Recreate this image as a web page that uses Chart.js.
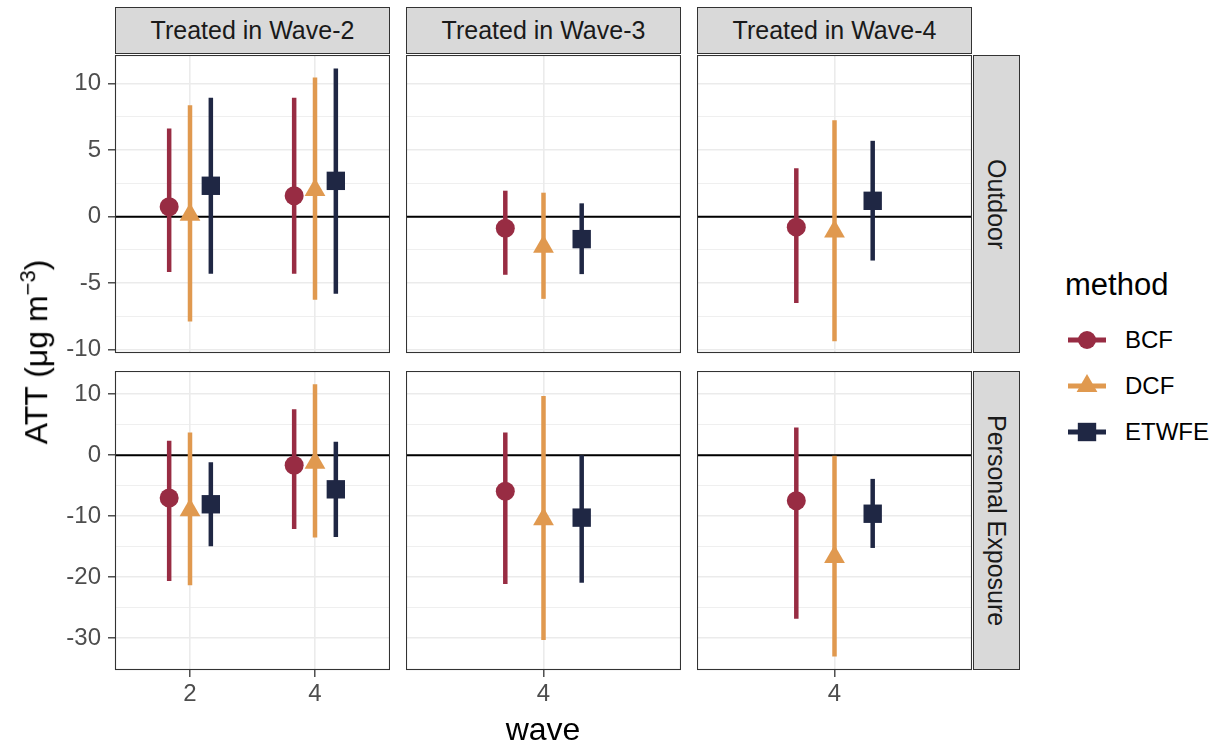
<!DOCTYPE html>
<html>
<head>
<meta charset="utf-8">
<script src="https://cdn.jsdelivr.net/npm/chart.js@4.4.1/dist/chart.umd.min.js"></script>
<style>
  body { margin: 0; background: #fff; font-family: "Liberation Sans", Arial, sans-serif; }
  #wrap { position: relative; width: 1225px; height: 747px; overflow: hidden; background: #fff; }
  #wrap canvas { position: absolute; }
  .strip { position: absolute; box-sizing: border-box; background: #D9D9D9; border: 1px solid #333;
           color: #1A1A1A; font-size: 25px; display: flex; align-items: center; justify-content: center; }
  .strip.v { writing-mode: vertical-rl; }
  .title { position: absolute; color: #000; font-size: 32px; white-space: nowrap; }
  .legend-title { position: absolute; left: 1065px; top: 267px; font-size: 31px; color: #000; }
  .legend-item { position: absolute; left: 1066px; height: 30px; display: flex; align-items: center; font-size: 24px; color: #000; }
  .legend-item svg { margin-right: 17px; }
</style>
</head>
<body>
<div id="wrap"></div>
<script>
// Facets, methods and styling
const cohorts = ['Treated in Wave-2', 'Treated in Wave-3', 'Treated in Wave-4'];
const outcomes = ['Outdoor', 'Personal Exposure'];
const methods = ['BCF', 'DCF', 'ETWFE'];
const methodColors = ['#982C43', '#E0994F', '#1F2744'];
const methodShapes = ['circle', 'triangle', 'rect'];
const methodRadius = [9.5, 12, 13];
const dodge = [-1 / 3, 0, 1 / 3];

// One row per estimate: cohort column and wave
const estCohort = [0, 0, 1, 2];
const estWave = [2, 4, 4, 4];

// [estimate, lower, upper]
const outdoorBCF   = [[0.75, -4.17, 6.63], [1.57, -4.30, 8.93], [-0.87, -4.37, 1.95], [-0.79, -6.50, 3.63]];
const outdoorDCF   = [[0.14, -7.88, 8.38], [2.00, -6.25, 10.46], [-2.26, -6.18, 1.80], [-1.12, -9.37, 7.25]];
const outdoorETWFE = [[2.32, -4.30, 8.93], [2.69, -5.80, 11.13], [-1.69, -4.32, 1.00], [1.19, -3.30, 5.70]];
const personalBCF   = [[-7.01, -20.6, 2.38], [-1.66, -12.1, 7.55], [-5.92, -21.1, 3.73], [-7.45, -26.8, 4.55]];
const personalDCF   = [[-9.02, -21.3, 3.73], [-1.25, -13.5, 11.63], [-10.5, -30.3, 9.72], [-16.7, -33.0, -0.07]];
const personalETWFE = [[-8.04, -14.93, -1.17], [-5.59, -13.4, 2.21], [-10.23, -20.9, 0.0], [-9.59, -15.2, -3.88]];
const outcomeData = [[outdoorBCF, outdoorDCF, outdoorETWFE], [personalBCF, personalDCF, personalETWFE]];

// Axes
const xTicksByCohort = [[2, 4], [4], [4]];
const xRangeByCohort = [[0.8, 5.2], [2.8, 5.2], [2.8, 5.2]];
const outdoorTicks = [-10, -5, 0, 5, 10];
const personalTicks = [-30, -20, -10, 0, 10];
const yTicksByOutcome = [outdoorTicks, personalTicks];
const yRangeByOutcome = [[-10.25, 12.15], [-35.2, 13.8]];

// Panel layout (pixels)
const colLeft = [115, 406, 697];
const panelW = 275;
const rowTop = [55, 371];
const rowH = [298, 299];
const yAxisW = 115;
const xAxisH = [14, 45];   // room below each row: label overhang on top row, tick labels on bottom row

Chart.defaults.font.family = '"Liberation Sans", Arial, sans-serif';
const wrap = document.getElementById('wrap');

const panelBorder = {
  id: 'panelBorder',
  afterDraw(chart) {
    const a = chart.chartArea, c = chart.ctx;
    c.save();
    c.strokeStyle = '#333333';
    c.lineWidth = 1.1;
    c.strokeRect(a.left + 0.5, a.top + 0.5, a.right - a.left - 1, a.bottom - a.top - 1);
    c.restore();
  }
};

function withMinor(majors) {
  const all = majors.slice();
  for (let i = 0; i < majors.length - 1; i++) all.push((majors[i] + majors[i + 1]) / 2);
  return all.sort((a, b) => a - b);
}

function makePanel(row, col) {
  const leftCol = col === 0, bottomRow = row === 1;
  const canvas = document.createElement('canvas');
  const cw = panelW + (leftCol ? yAxisW : 0);
  const ch = rowH[row] + xAxisH[row];
  canvas.width = cw; canvas.height = ch;
  canvas.style.left = (leftCol ? 0 : colLeft[col]) + 'px';
  canvas.style.top = rowTop[row] + 'px';
  canvas.style.width = cw + 'px'; canvas.style.height = ch + 'px';
  wrap.appendChild(canvas);

  const [xMin, xMax] = xRangeByCohort[col];
  const majorsY = new Set(yTicksByOutcome[row]);
  const yTicks = withMinor(yTicksByOutcome[row]);
  const isMajorY = ctx => ctx.tick && majorsY.has(ctx.tick.value);

  const datasets = [];
  // zero reference line
  datasets.push({
    type: 'line', data: [{ x: xMin, y: 0 }, { x: xMax, y: 0 }],
    borderColor: '#000', borderWidth: 2, pointRadius: 0, order: 10
  });
  methods.forEach((m, mi) => {
    const rows = outcomeData[row][mi];
    const ranges = [], points = [];
    rows.forEach((r, i) => {
      if (estCohort[i] !== col) return;
      const x = estWave[i] + dodge[mi];
      ranges.push({ x, y: r[1] }, { x, y: r[2] }, { x, y: null });
      points.push({ x, y: r[0] });
    });
    datasets.push({
      type: 'line', label: m + ' interval', data: ranges, spanGaps: false,
      borderColor: methodColors[mi], borderWidth: 4.5, borderCapStyle: 'butt',
      pointRadius: 0, order: 5
    });
    datasets.push({
      type: 'scatter', label: m, data: points,
      pointStyle: methodShapes[mi], pointRadius: methodRadius[mi],
      backgroundColor: methodColors[mi], borderWidth: 0, order: 1
    });
  });

  new Chart(canvas, {
    type: 'scatter',
    data: { datasets },
    plugins: [panelBorder],
    options: {
      responsive: false, animation: false, devicePixelRatio: 1, events: [],
      layout: { padding: 0, autoPadding: false },
      plugins: { legend: { display: false }, tooltip: { enabled: false } },
      scales: {
        x: {
          type: 'linear', min: xMin, max: xMax,
          afterBuildTicks: s => { s.ticks = xTicksByCohort[col].map(v => ({ value: v })); },
          afterFit: s => { s.height = xAxisH[row]; s.paddingLeft = 0; s.paddingRight = 0; },
          border: { display: false },
          grid: { color: '#EBEBEB', lineWidth: 1.6, drawTicks: bottomRow, tickLength: 7,
                  tickColor: '#333333', tickWidth: 1.3 },
          ticks: { display: bottomRow, color: '#4D4D4D', font: { size: 24 }, padding: 3,
                   maxRotation: 0, callback: v => String(v) }
        },
        y: {
          type: 'linear', min: yRangeByOutcome[row][0], max: yRangeByOutcome[row][1],
          afterBuildTicks: s => { s.ticks = yTicks.map(v => ({ value: v })); },
          afterFit: s => { s.width = leftCol ? yAxisW : 0; s.paddingTop = 0; s.paddingBottom = 0; },
          border: { display: false },
          grid: {
            color: '#EBEBEB',
            lineWidth: ctx => isMajorY(ctx) ? 1.6 : 0.8,
            drawTicks: leftCol, tickLength: 7,
            tickColor: ctx => isMajorY(ctx) ? '#333333' : 'rgba(0,0,0,0)',
            tickWidth: 1.3
          },
          ticks: { display: leftCol, color: '#4D4D4D', font: { size: 24 }, padding: 7,
                   autoSkip: false, callback: v => majorsY.has(v) ? String(v) : '' }
        }
      }
    }
  });
}

for (let r = 0; r < outcomes.length; r++)
  for (let c = 0; c < cohorts.length; c++) makePanel(r, c);

// Facet strips
cohorts.forEach((t, c) => {
  const d = document.createElement('div');
  d.className = 'strip';
  d.style.left = colLeft[c] + 'px'; d.style.top = '7px';
  d.style.width = panelW + 'px'; d.style.height = '47px';
  d.textContent = t;
  wrap.appendChild(d);
});
outcomes.forEach((t, r) => {
  const d = document.createElement('div');
  d.className = 'strip v';
  d.style.left = '973px'; d.style.top = rowTop[r] + 'px';
  d.style.width = '47px'; d.style.height = rowH[r] + 'px';
  d.textContent = t;
  wrap.appendChild(d);
});

// Axis titles
const yTitle = document.createElement('div');
yTitle.className = 'title';
yTitle.innerHTML = 'ATT (\u03BCg m<sup style="font-size:22px">\u22123</sup>)';
yTitle.style.left = '35px'; yTitle.style.top = '352px';
yTitle.style.transform = 'translate(-50%, -50%) rotate(-90deg)';
wrap.appendChild(yTitle);

const xTitle = document.createElement('div');
xTitle.className = 'title';
xTitle.textContent = 'wave';
xTitle.style.left = '543px'; xTitle.style.top = '711px';
xTitle.style.transform = 'translateX(-50%)';
wrap.appendChild(xTitle);

// Legend
const lt = document.createElement('div');
lt.className = 'legend-title';
lt.textContent = 'method';
wrap.appendChild(lt);
const legendRowCenter = [340, 386, 432];
methods.forEach((m, i) => {
  const d = document.createElement('div');
  d.className = 'legend-item';
  d.style.top = (legendRowCenter[i] - 15) + 'px';
  const col = methodColors[i];
  const cx = 21, cy = 15;
  let marker;
  if (methodShapes[i] === 'circle') marker = `<circle cx="${cx}" cy="${cy}" r="9" fill="${col}"/>`;
  else if (methodShapes[i] === 'triangle') {
    const r = 12, h = r * Math.sin(Math.PI / 3);
    marker = `<polygon points="${cx},${cy - r} ${cx + h},${cy + r / 2} ${cx - h},${cy + r / 2}" fill="${col}"/>`;
  } else {
    const s = 13 * Math.SQRT1_2;
    marker = `<rect x="${cx - s}" y="${cy - s}" width="${2 * s}" height="${2 * s}" fill="${col}"/>`;
  }
  d.innerHTML = `<svg width="42" height="30"><line x1="2" y1="${cy}" x2="40" y2="${cy}" stroke="${col}" stroke-width="5"/>${marker}</svg><span>${m}</span>`;
  wrap.appendChild(d);
});
</script>
</body>
</html>
